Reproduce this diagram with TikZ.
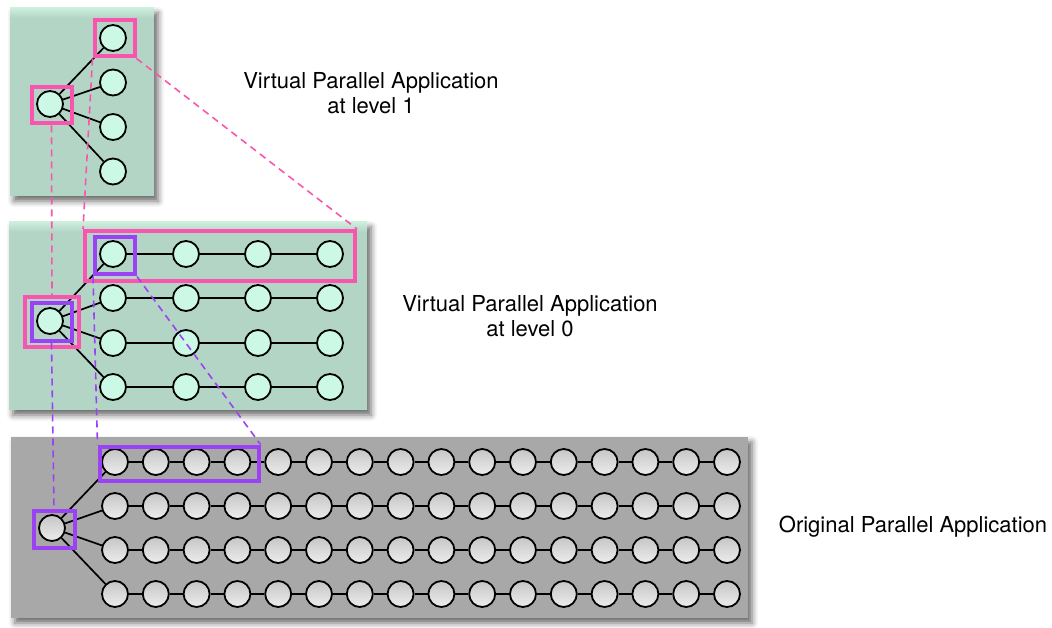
\documentclass[tikz,border=0pt]{standalone}
\usepackage{fontspec}
\setmainfont{TeX Gyre Heros}
\usetikzlibrary{shadows.blur,backgrounds}

\definecolor{panelgreen}{HTML}{B3D5C5}
\definecolor{panelglow}{HTML}{CDEEDD}
\definecolor{nodemint}{HTML}{CCF8E6}
\definecolor{panelgray}{HTML}{A8A8A8}
\definecolor{hlpink}{HTML}{FA55AE}
\definecolor{hlpurple}{HTML}{9B42F5}
\definecolor{ballhi}{HTML}{C6C6C6}
\definecolor{balllo}{HTML}{EDEDED}

\tikzset{
  proc/.style={circle,draw=black,line width=1.8pt,minimum size=26pt,inner sep=0pt},
  mint/.style={proc,fill=nodemint},
  grey/.style={proc,top color=ballhi,bottom color=balllo},
  link/.style={line width=1.7pt,draw=black},
  pinkbox/.style={rectangle,draw=hlpink,line width=4pt,inner sep=0pt},
  purplebox/.style={rectangle,draw=hlpurple,line width=4pt,inner sep=0pt},
  pinkmap/.style={draw=hlpink,line width=1.6pt,dash pattern=on 7pt off 5pt},
  purplemap/.style={draw=hlpurple,line width=1.6pt,dash pattern=on 7pt off 5pt},
  panel/.style={blur shadow={shadow xshift=4pt,shadow yshift=-5pt,shadow blur radius=6pt,shadow opacity=60}},
  caption/.style={align=center,font=\fontsize{22}{25}\selectfont}
}

\begin{document}
\begin{tikzpicture}[x=1pt,y=-1pt]
\useasboundingbox (0,0) rectangle (1052,628);

% ---- level 1 ----
\node[mint] (t0) at (50,104) {};
\foreach \i/\y in {1/38,2/82.5,3/127,4/171.5}
  \node[mint] (t-\i) at (113,\y) {};

% ---- level 0 ----
\node[mint] (m0) at (50,321) {};
\foreach \r/\y in {1/254,2/298,3/343,4/387}
  \foreach \c/\x in {1/113,2/186,3/258,4/330}
    \node[mint] (m-\r-\c) at (\x,\y) {};

% ---- original application ----
\node[grey] (b0) at (52,528) {};
\foreach \r/\y in {1/462,2/506,3/550,4/594}
  \foreach \c in {1,...,16}
    \node[grey] (b-\r-\c) at ({115+40.8*(\c-1)},\y) {};

\begin{pgfonlayer}{background}
  % panels
  \fill[panelgreen,panel] (10,8) rectangle (154,196);
  \shade[top color=panelglow,bottom color=panelgreen] (10,8) rectangle (154,18);
  \fill[panelgreen,panel] (9,222) rectangle (367,410);
  \shade[top color=panelglow,bottom color=panelgreen] (9,222) rectangle (367,232);
  \fill[panelgray,panel] (11,437) rectangle (748,618);

  % links
  \foreach \i in {1,...,4}
    \draw[link] (t0) -- (t-\i);
  \foreach \r in {1,...,4} {
    \draw[link] (m0) -- (m-\r-1);
    \foreach \c [evaluate=\c as \n using int(\c+1)] in {1,2,3}
      \draw[link] (m-\r-\c) -- (m-\r-\n);
    \draw[link] (b0) -- (b-\r-1);
    \foreach \c [evaluate=\c as \n using int(\c+1)] in {1,...,15}
      \draw[link] (b-\r-\c) -- (b-\r-\n);
  }
\end{pgfonlayer}

% ---- highlight boxes ----
\node[pinkbox,minimum width=40pt,minimum height=36pt] (tsel) at (114.5,38.5) {};
\node[pinkbox,minimum width=40pt,minimum height=36pt] (troot) at (51.5,105.5) {};
\node[pinkbox,minimum width=270pt,minimum height=50pt] (mrow) at (220,256) {};
\node[pinkbox,minimum width=54pt,minimum height=50pt] (mrootp) at (52,322) {};
\node[purplebox,minimum width=40pt,minimum height=37pt] (msel) at (115,256) {};
\node[purplebox,minimum width=40pt,minimum height=37pt] (mroot) at (51.5,322) {};
\node[purplebox,minimum width=159pt,minimum height=34pt] (brow) at (179,463.5) {};
\node[purplebox,minimum width=41pt,minimum height=37pt] (broot) at (54,529) {};

% ---- mappings between levels ----
\draw[pinkmap] (tsel.south east) -- (mrow.north east);
\draw[pinkmap] (tsel.south west) -- (mrow.north west);
\draw[pinkmap] (troot.south) -- (mrootp.north);
\draw[purplemap] (msel.south east) -- (brow.north east);
\draw[purplemap] (msel.south west) -- (brow.north west);
\draw[purplemap] (mroot.south) -- (broot.north);

% ---- captions ----
\node[caption] (cap1) at (371,93) {Virtual Parallel Application\\at level 1};
\node[caption] (cap0) at (530,316) {Virtual Parallel Application\\at level 0};
\node[caption] (capo) at (913,527) {Original Parallel Application};
\end{tikzpicture}
\end{document}
